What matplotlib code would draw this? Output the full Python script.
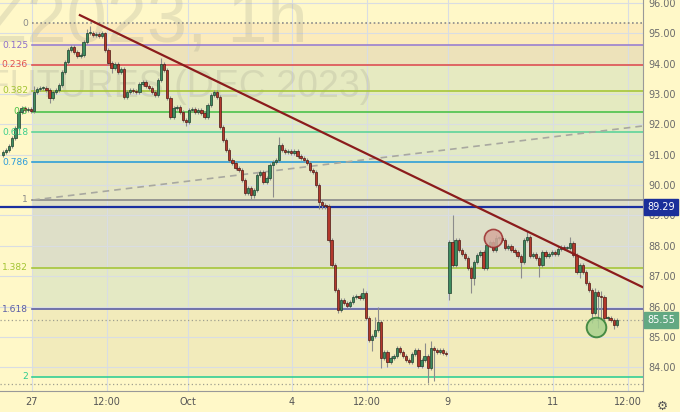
import matplotlib
matplotlib.use("Agg")
import matplotlib.pyplot as plt

# hourly closes (bar index = position on the time axis)
closes = [
    91.09, 91.16, 91.29, 91.55, 91.88, 92.41, 92.54, 92.47, 92.50, 92.44,
    93.07, 93.17, 93.20, 93.20, 93.13, 92.87, 93.07, 93.13, 93.30, 93.73,
    94.06, 94.45, 94.55, 94.39, 94.25, 94.29, 94.72, 95.01, 95.01, 94.95,
    94.98, 94.91, 95.01, 94.45, 94.02, 93.86, 93.99, 93.73, 93.83, 92.90,
    93.07, 93.13, 93.10, 93.07, 93.33, 93.40, 93.27, 93.20, 93.07, 92.97,
    93.46, 93.99, 93.79, 92.87, 92.24, 92.54, 92.57, 92.41, 92.14, 92.08,
    92.47, 92.50, 92.41, 92.47, 92.37, 92.24, 92.64, 92.97, 93.07, 92.90,
    91.91, 91.49, 91.16, 90.83, 90.73, 90.56, 90.50, 90.17, 89.74, 89.90,
    89.67, 89.84, 90.33, 90.43, 90.10, 90.23, 90.66, 90.76, 90.83, 91.32,
    91.16, 91.09, 91.12, 91.06, 91.12, 90.96, 90.89, 90.83, 90.73, 90.50,
    90.43, 90.00, 89.44, 89.34, 89.31, 88.19, 87.37, 86.54, 85.88, 86.21,
    86.12, 86.02, 86.15, 86.31, 86.34, 86.28, 86.44, 85.62, 84.90, 85.03,
    85.22, 85.49, 84.30, 84.50, 84.17, 84.30, 84.37, 84.63, 84.50, 84.37,
    84.24, 84.17, 84.44, 84.57, 84.04, 84.24, 84.37, 83.97, 84.63, 84.57,
    84.50, 84.57, 84.47, 84.44, 88.13, 87.37, 88.19, 87.86, 87.73, 87.60,
    87.27, 86.94, 87.47, 87.70, 87.80, 87.27, 88.03, 88.13, 87.86, 88.26,
    88.26, 88.19, 87.93, 88.00, 87.86, 87.80, 87.67, 87.47, 88.19, 88.29,
    87.67, 87.73, 87.60, 87.37, 87.80, 87.67, 87.73, 87.80, 87.73, 87.90,
    87.96, 87.93, 87.93, 88.09, 87.70, 87.14, 87.37, 87.14, 86.77, 86.54,
    85.79, 86.48, 86.34, 86.31, 85.62, 85.62, 85.55, 85.39, 85.55,
]
first_open = 91.0
gap_opens = {144: 86.45}          # Monday gap open
spike_highs = {10: 93.25, 27: 95.15, 28: 95.25, 33: 95.05, 51: 94.2, 89: 91.58,
               116: 86.6, 120: 85.65, 121: 85.98, 136: 84.8, 138: 84.85,
               145: 89.0, 159: 88.35, 169: 88.5, 179: 88.0, 183: 88.3,
               191: 86.6, 193: 86.5}
spike_lows = {15: 92.7, 35: 93.7, 59: 91.95, 80: 89.55, 81: 89.58, 87: 89.6,
              102: 89.2, 103: 89.2, 104: 89.2, 108: 85.8, 119: 84.55, 122: 83.97,
              124: 84.0, 137: 83.48, 139: 83.55, 144: 86.2, 151: 86.45, 152: 86.7,
              167: 86.95, 173: 86.97, 186: 86.95, 190: 85.45, 192: 85.3,
              193: 85.6, 197: 85.25}

fib_levels = [0, 0.125, 0.236, 0.382, 0.5, 0.618, 0.786, 1, 1.382, 1.618, 2]
fib_top, fib_bottom = 95.34, 89.51
fib_line_colors = ['#8a8a8a', '#9a80d0', '#e0504f', '#a6c63a', '#4cc24c', '#5ed49a',
                   '#2f9fd8', '#8a8a8a', '#a6c63a', '#5b5ea6', '#34cf95']
fib_label_colors = ['#8a8a8a', '#8e6fcb', '#e0504f', '#a3c433', '#48c048', '#3ecf8e',
                    '#2d9cdb', '#8a8a8a', '#a3c433', '#5b5ea6', '#2dcb8e']
fib_zone_colors = ['#fcebbb', '#ede2ba', '#e6eac1', '#e4eac0', '#e2eac4',
                   '#e2e9c6', '#e5e6c4', '#dedfc8', '#e4e9c4', '#f2ebbb']

tick_pos = [9.35, 33.5, 59.7, 93.2, 117.4, 143.5, 177.4, 201.6]
tick_labels = ['27', '12:00', 'Oct', '4', '12:00', '9', '11', '12:00']
price_ticks = list(range(84, 97))

trend_pts = [(24.8, 95.6), (206.5, 86.63)]
dash_pts = [(9.7, 89.51), (206.5, 91.95)]
blue_level = 89.29
last_price = 85.55
low_dotted = 83.45
red_circle = (158, 88.26)
green_circle = (191.3, 85.32)

bg = '#fff8c8'
fig = plt.figure(figsize=(6.8, 4.12), dpi=100, facecolor=bg)
ax = fig.add_axes([0, 21 / 412, 643 / 680, 391 / 412], facecolor=bg)

xmin, xmax = -0.97, 206.45
ax.set_xlim(xmin, xmax)
ax.set_ylim(83.216, 96.099)

# grid
for p in price_ticks:
    ax.axhline(p, color='#d9dde3', lw=0.8, zorder=0.5)
for t in tick_pos:
    ax.axvline(t, color='#d9dde3', lw=0.8, zorder=0.5)

# watermark
ax.text(98.3, 94.72, 'BRNZ2023, 1h', fontsize=52, family='Liberation Sans',
        color='#9a9a8a', alpha=0.22, ha='right', va='baseline', zorder=0.6, clip_on=True)
ax.text(119.0, 92.9, 'BRENT CRUDE FUTURES (DEC 2023)', fontsize=27,
        family='Liberation Sans', color='#9a9a8a', alpha=0.22, ha='right',
        va='baseline', zorder=0.6, clip_on=True)

# fibonacci retracement
fx0 = 9.4
prices = [fib_top - lv * (fib_top - fib_bottom) for lv in fib_levels]
for k in range(len(prices) - 1):
    ax.fill_between([fx0, xmax], prices[k + 1], prices[k], color=fib_zone_colors[k],
                    lw=0, zorder=0.4)
for k, (lv, p) in enumerate(zip(fib_levels, prices)):
    ls = (0, (1, 1.5)) if lv == 0 else '-'
    ax.plot([fx0, xmax], [p, p], color=fib_line_colors[k], lw=1.2, ls=ls, zorder=1)
    ax.text(8.1, p, f'{lv:g}', color=fib_label_colors[k], fontsize=6.6, ha='right',
            va='center', zorder=3)

# horizontal lines
ax.axhline(blue_level, color='#1a2fa0', lw=1.6, zorder=1.5)
ax.axhline(last_price, color='#a0a090', lw=0.9, ls=(0, (1, 2)), zorder=1.5)
ax.axhline(low_dotted, color='#a0a090', lw=0.9, ls=(0, (1, 2)), zorder=1.5)

# dashed and trend lines
ax.plot([dash_pts[0][0], dash_pts[1][0]], [dash_pts[0][1], dash_pts[1][1]],
        color='#a8a8a0', lw=1.2, ls=(0, (4, 3)), zorder=1.6)

# candles
opens = [first_open] + closes[:-1]
for i, o in gap_opens.items():
    opens[i] = o
for i, (o, c) in enumerate(zip(opens, closes)):
    hi = spike_highs.get(i, max(o, c) + 0.06)
    lo = spike_lows.get(i, min(o, c) - 0.06)
    up = c >= o
    ax.vlines(i, lo, hi, color='#8c8c8c', lw=0.8, zorder=2)
    ax.bar(i, max(abs(c - o), 0.03), bottom=min(o, c), width=0.72,
           color='#3d8c60' if up else '#b3382c',
           edgecolor='#1f3f2c' if up else '#4e1712', lw=0.5, zorder=2.2)

ax.plot([trend_pts[0][0], trend_pts[1][0]], [trend_pts[0][1], trend_pts[1][1]],
        color='#8b1c1c', lw=1.6, zorder=2.5)

ax.scatter([red_circle[0]], [red_circle[1]], s=170, facecolor='#d4a99c',
           edgecolor='#9b2c2c', lw=1.2, alpha=0.85, zorder=2.6)
ax.scatter([green_circle[0]], [green_circle[1]], s=200, facecolor='#a9d28e',
           edgecolor='#2e7d32', lw=1.4, alpha=0.85, zorder=2.6)

# axes
ax.yaxis.tick_right()
ax.set_yticks(price_ticks)
ax.set_yticklabels([f'{p:.2f}' for p in price_ticks], fontsize=7, color='#6b6b6b')
ax.set_xticks(tick_pos)
ax.set_xticklabels(tick_labels, fontsize=7, color='#555555')
ax.tick_params(length=0, pad=4)
ax.tick_params(axis='x', pad=4)
for s in ['top', 'left']:
    ax.spines[s].set_visible(False)
ax.spines['right'].set_color('#999999')
ax.spines['bottom'].set_color('#999999')

tr = ax.get_yaxis_transform()
ax.text(1.028, blue_level, f'{blue_level:.2f}', transform=tr, fontsize=7, color='white',
        ha='center', va='center', clip_on=False, zorder=5,
        bbox=dict(boxstyle='square,pad=0.3', fc='#1a2f9a', ec='#1a2f9a'))
ax.text(1.028, last_price, f'{last_price:.2f}', transform=tr, fontsize=7, color='white',
        ha='center', va='center', clip_on=False, zorder=5,
        bbox=dict(boxstyle='square,pad=0.3', fc='#62a882', ec='#62a882'))

fig.text(662 / 680, 6 / 412, '⚙', fontsize=9, color='#555555', ha='center', va='center')

fig.savefig('out.png', dpi=100, facecolor=bg)
